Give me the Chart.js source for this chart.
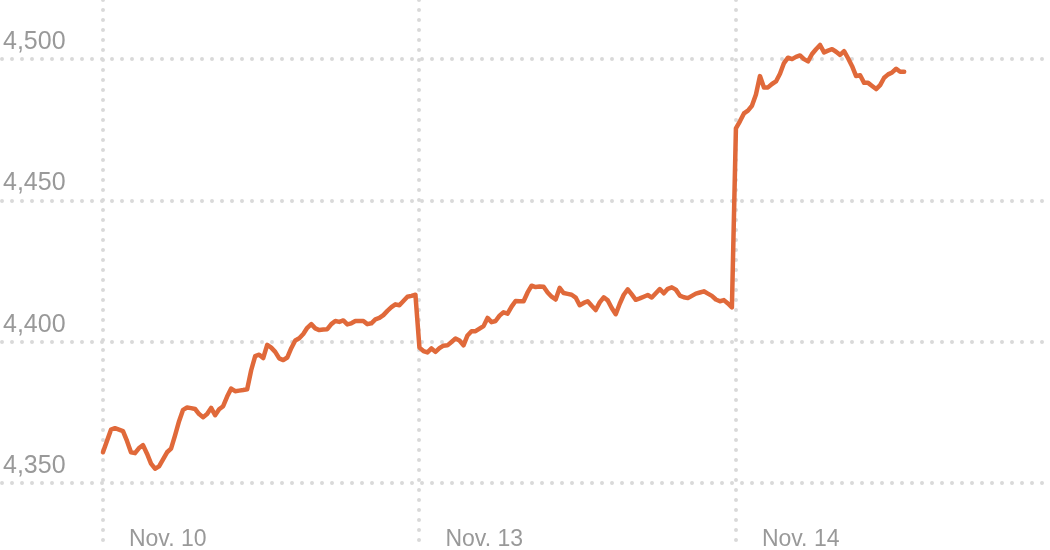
<!DOCTYPE html>
<html>
<head>
<meta charset="utf-8">
<script src="https://cdn.jsdelivr.net/npm/chart.js@4.4.1/dist/chart.umd.min.js"></script>
<style>
html, body { margin: 0; padding: 0; background: #ffffff; overflow: hidden; }
canvas { display: block; }
</style>
</head>
<body>
<canvas id="chart" width="1050" height="550"></canvas>
<script>
// Trading days shown on the x axis (one tick per session open)
const dayLabels = ["Nov. 10", "Nov. 13", "Nov. 14"];
// 5-minute bars per session (9:30–16:00)
const slotsPerDay = 79;
// Y axis tick values
const yTickValues = [4350, 4400, 4450, 4500];

// Index level, one value per 5-minute bar
const nov10 = [
  4361, 4365, 4369, 4369.5, 4369, 4368.5, 4365, 4361, 4360.7, 4362.5,
  4363.5, 4360.5, 4357, 4355.2, 4356, 4358.5, 4361, 4362.3, 4367, 4372,
  4376, 4376.8, 4376.6, 4376.3, 4374.5, 4373.4, 4374.5, 4376.7, 4374.1, 4376.2,
  4377.3, 4380.7, 4383.5, 4382.6, 4382.8, 4383, 4383.3, 4390, 4395, 4395.5,
  4394.3, 4399, 4398, 4396.5, 4394.2, 4393.6, 4394.5, 4397.8, 4400.5, 4401.3,
  4402.8, 4405, 4406.3, 4404.8, 4404.2, 4404.4, 4404.5, 4406.3, 4407.4, 4407.1,
  4407.6, 4406.2, 4406.6, 4407.4, 4407.4, 4407.4, 4406.3, 4406.6, 4408, 4408.5,
  4409.5, 4411, 4412.3, 4413.3, 4413, 4414.5, 4416, 4416.3, 4416.7
];
const nov13 = [
  4398, 4396.8, 4396.3, 4397.7, 4396.5, 4397.8, 4398.7, 4398.8, 4400, 4401.2,
  4400.5, 4398.8, 4402.3, 4403.8, 4403.8, 4404.7, 4405.6, 4408.5, 4407, 4407.4,
  4409.3, 4410.5, 4410, 4412.5, 4414.5, 4414.4, 4414.4, 4417.5, 4419.9, 4419.4,
  4419.6, 4419.5, 4417.5, 4416, 4415, 4419.1, 4417.3, 4417, 4416.7, 4415.7,
  4413, 4413.8, 4414.4, 4412.8, 4411.3, 4414, 4415.8, 4414.7, 4412, 4409.8,
  4413.5, 4416.7, 4418.6, 4416.8, 4414.9, 4415.4, 4416, 4416.6, 4415.7, 4417.2,
  4418.7, 4417.2, 4418.8, 4419.3, 4418.5, 4416.4, 4415.8, 4415.5, 4416.3, 4417.1,
  4417.5, 4417.9, 4417.1, 4416.3, 4415, 4414.4, 4414.8, 4413.6, 4412.2
];
const nov14 = [
  4475.5, 4478, 4480.8, 4481.8, 4483.5, 4487.5, 4494, 4490, 4490, 4491.2,
  4492.1, 4494.8, 4498.6, 4500.5, 4500, 4500.8, 4501.3, 4500, 4499.2, 4501.8,
  4503.5, 4505, 4502.4, 4503, 4503.5, 4502.6, 4501.5, 4502.8, 4500.3, 4497.5,
  4494, 4494.3, 4491.6, 4491.6, 4490.5, 4489.4, 4490.8, 4493.4, 4494.6, 4495.3,
  4496.6, 4495.5, 4495.5
];

const sessions = [nov10, nov13, nov14];
const points = [];
sessions.forEach((vals, d) => {
  vals.forEach((v, i) => points.push({ x: d * slotsPerDay + i, y: v }));
});

const labelFont = '"Liberation Sans", Arial, Helvetica, sans-serif';
const gridStyle = { color: '#d9d9d9', lineWidth: 4, drawTicks: false, borderDash: [0, 10] };

new Chart(document.getElementById('chart'), {
  type: 'line',
  data: {
    datasets: [{
      data: points,
      borderColor: '#e0693a',
      borderWidth: 4.5,
      pointRadius: 0,
      tension: 0,
      fill: false,
      borderJoinStyle: 'round',
      borderCapStyle: 'round'
    }]
  },
  options: {
    responsive: false,
    animation: false,
    events: [],
    layout: { padding: 0, autoPadding: false },
    plugins: { legend: { display: false }, tooltip: { enabled: false } },
    scales: {
      x: {
        type: 'linear',
        min: -25.2,
        max: 236.4,
        afterBuildTicks: (scale) => {
          scale.ticks = dayLabels.map((_, i) => ({ value: i * slotsPerDay }));
        },
        afterFit: (scale) => {
          scale.height = 1;
          scale.paddingLeft = 0;
          scale.paddingRight = 0;
        },
        grid: { ...gridStyle },
        border: { display: false, dash: [0, 10] },
        ticks: {
          mirror: true,
          align: 'start',
          labelOffset: 26,
          padding: -4,
          maxRotation: 0,
          autoSkip: false,
          color: '#999999',
          font: { family: labelFont, size: 23 },
          callback: (value, index) => dayLabels[index]
        }
      },
      y: {
        min: 4326.8,
        max: 4520.9,
        afterBuildTicks: (scale) => {
          scale.ticks = yTickValues.map(v => ({ value: v }));
        },
        afterFit: (scale) => {
          scale.paddingTop = 0;
          scale.paddingBottom = 0;
        },
        grid: { ...gridStyle },
        border: { display: false, dash: [0, 10] },
        ticks: {
          mirror: true,
          padding: 1,
          labelOffset: -17,
          color: '#999999',
          font: { family: labelFont, size: 25 },
          callback: (value) => Number(value).toLocaleString('en-US')
        }
      }
    }
  },
  plugins: [{
    id: 'roundDots',
    beforeDraw(chart) { chart.ctx.lineCap = 'round'; }
  }]
});
</script>
</body>
</html>
